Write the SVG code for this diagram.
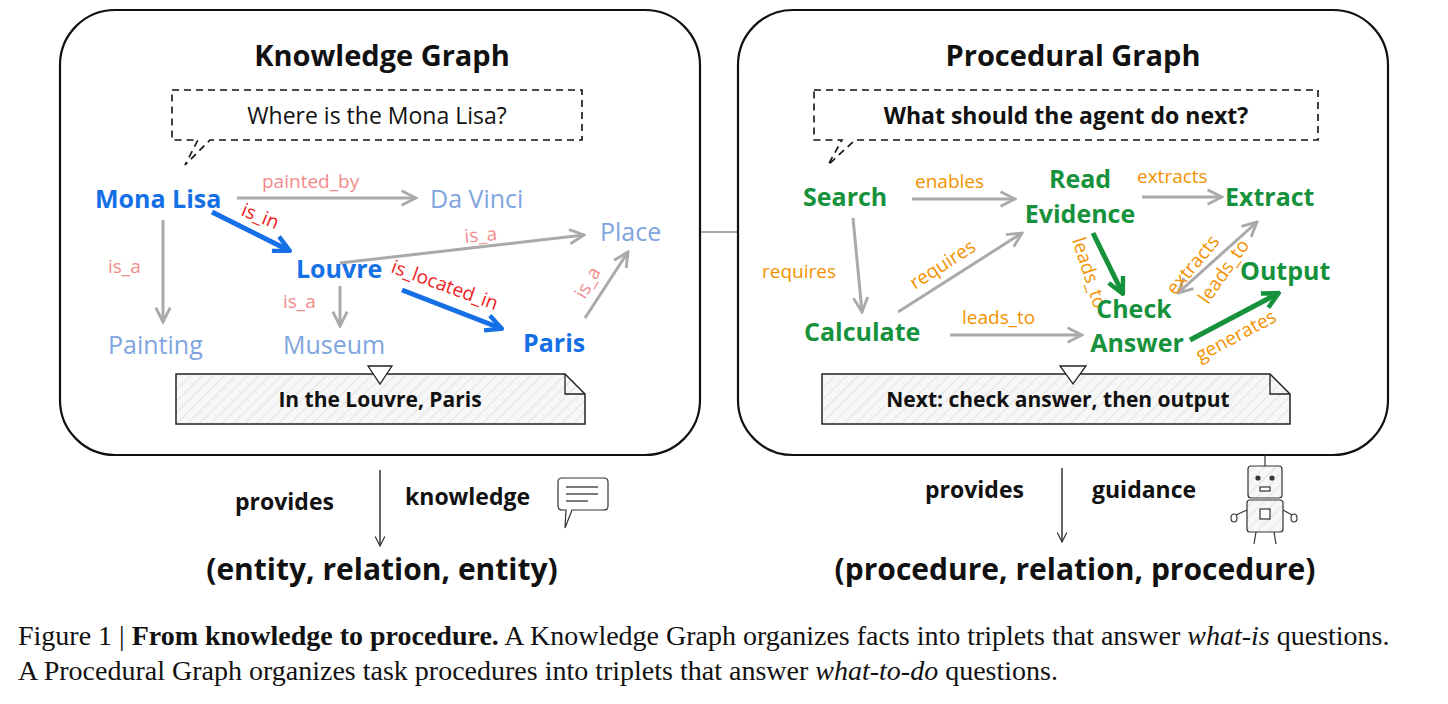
<svg xmlns="http://www.w3.org/2000/svg" width="1448" height="704" viewBox="0 0 1448 704">
<defs>
<marker id="ag" viewBox="0 0 10 10" refX="9" refY="5" markerWidth="6" markerHeight="6" orient="auto-start-reverse"><path d="M1,1 L9,5 L1,9" fill="none" stroke="#aaa" stroke-width="1.6"/></marker>
<marker id="ab" viewBox="0 0 10 10" refX="8" refY="5" markerWidth="4" markerHeight="4" orient="auto"><path d="M1,1 L9,5 L1,9" fill="none" stroke="#1570e6" stroke-width="2.2"/></marker>
<marker id="agr" viewBox="0 0 10 10" refX="8" refY="5" markerWidth="4" markerHeight="4" orient="auto"><path d="M1,1 L9,5 L1,9" fill="none" stroke="#17923c" stroke-width="2.2"/></marker>
<marker id="ak" viewBox="0 0 10 10" refX="9" refY="5" markerWidth="8" markerHeight="8" orient="auto"><path d="M1,1 L9,5 L1,9" fill="none" stroke="#333" stroke-width="1"/></marker>
<pattern id="hatch" width="8" height="8" patternUnits="userSpaceOnUse" patternTransform="rotate(45)"><rect width="8" height="8" fill="#f7f7f7"/><line x1="0" y1="0" x2="0" y2="8" stroke="#ddd" stroke-width="1.5"/></pattern>
<style>
text{font-family:"Open Sans","Liberation Sans",sans-serif;}
.t{font-size:29px;font-weight:700;fill:#111;text-anchor:middle}
.q{font-size:23px;fill:#111;text-anchor:middle}
.n{font-size:25px;font-weight:700}
.kb{fill:#1570e6}
.kl{fill:#7fa5e0;font-weight:400}
.pg{fill:#17923c}
.rl{font-size:19px;fill:#f28b8b}
.rr{font-size:19px;fill:#ee1c1c}
.ro{font-size:19px;fill:#f39200}
.g{stroke:#aaa;stroke-width:3;fill:none;marker-end:url(#ag)}
.eb{stroke:#1570e6;stroke-width:5;fill:none;marker-end:url(#ab)}
.eg{stroke:#17923c;stroke-width:5;fill:none;marker-end:url(#agr)}
.panel{fill:#fff;stroke:#111;stroke-width:2.2}
.bub{fill:#fff;stroke:#111;stroke-width:1.6;stroke-dasharray:7 5}
.note{fill:url(#hatch);stroke:#222;stroke-width:1.5}
.nt{font-size:21px;font-weight:700;fill:#111;text-anchor:middle}
.b{font-size:23px;font-weight:700;fill:#111}
.tr{font-size:30px;font-weight:700;fill:#111;text-anchor:middle}
.cap{font-family:"Liberation Serif",serif;font-size:28px;fill:#111}
</style>
</defs>
<line x1="700" y1="232" x2="738" y2="232" stroke="#555" stroke-width="1"/>
<g id="kg-panel">
<rect class="panel" x="60" y="10" width="640" height="445" rx="55"/>
<text class="t" x="382" y="66">Knowledge Graph</text>
<path class="bub" d="M172,90 H582 V140 H210 L185,165 L198,140 H172 Z"/>
<text class="q" x="377" y="124">Where is the Mona Lisa?</text>
</g>
<g id="pg-panel">
<rect class="panel" x="738" y="10" width="650" height="445" rx="55"/>
<text class="t" x="1073" y="66">Procedural Graph</text>
<path class="bub" d="M814,90 H1318 V140 H855 L828,165 L842,140 H814 Z"/>
<text class="q" x="1066" y="124" font-weight="700">What should the agent do next?</text>
</g>
<g id="connectors">
<line class="g" x1="237" y1="198" x2="416" y2="198"/>
<line class="eb" x1="212" y1="212" x2="288" y2="250"/>
<line class="g" x1="163" y1="220" x2="163" y2="322"/>
<line class="g" x1="340" y1="263" x2="584" y2="235"/>
<line class="g" x1="340" y1="286" x2="340" y2="326"/>
<line class="eb" x1="402" y1="290" x2="500" y2="328"/>
<line class="g" x1="585" y1="318" x2="628" y2="252"/>
<line class="g" x1="912" y1="199" x2="1015" y2="199"/>
<line class="g" x1="1142" y1="197" x2="1222" y2="197"/>
<line class="g" x1="853" y1="218" x2="862" y2="312"/>
<line class="g" x1="898" y1="312" x2="1022" y2="233"/>
<line class="g" x1="950" y1="335" x2="1082" y2="335"/>
<line class="eg" x1="1093" y1="233" x2="1122" y2="292"/>
<line class="g" style="marker-start:url(#ag)" x1="1178" y1="293" x2="1257" y2="222"/>
<line class="eg" x1="1190" y1="340" x2="1277" y2="294"/>
<line x1="380" y1="470" x2="380" y2="546" stroke="#333" stroke-width="1.5" marker-end="url(#ak)"/>
<line x1="1062" y1="468" x2="1062" y2="542" stroke="#333" stroke-width="1.5" marker-end="url(#ak)"/>
<line x1="1265" y1="455" x2="1265" y2="466" stroke="#333" stroke-width="1.2"/>
</g>
<g id="kg-labels">
<text class="rl" x="262" y="188">painted_by</text>
<text class="rr" x="240" y="215" transform="rotate(22 240 215)">is_in</text>
<text class="rl" x="108" y="273">is_a</text>
<text class="rl" x="465" y="243" transform="rotate(-5 465 243)">is_a</text>
<text class="rl" x="283" y="308">is_a</text>
<text class="rr" x="390" y="272" transform="rotate(20 390 272)">is_located_in</text>
<text class="rl" x="585" y="300" transform="rotate(-60 585 300)">is_a</text>
</g>
<g id="n-monalisa"><text class="n kb" x="95" y="208">Mona Lisa</text></g>
<g id="n-davinci"><text class="n kl" x="430" y="208">Da Vinci</text></g>
<g id="n-place"><text class="n kl" x="600" y="241">Place</text></g>
<g id="n-louvre"><text class="n kb" x="296" y="278">Louvre</text></g>
<g id="n-painting"><text class="n kl" x="108" y="354">Painting</text></g>
<g id="n-museum"><text class="n kl" x="283" y="354">Museum</text></g>
<g id="n-paris"><text class="n kb" x="523" y="352">Paris</text></g>
<g id="kg-note">
<path class="note" d="M176,374 H565 L585,394 V424 H176 Z"/>
<path d="M565,374 V394 H585" fill="none" stroke="#222" stroke-width="1.3"/>
<path d="M368,366 H392 L380,384 Z" fill="#fff" stroke="#222" stroke-width="1.3"/>
<text class="nt" x="380" y="407">In the Louvre, Paris</text>
</g>
<g id="pg-labels">
<text class="ro" x="915" y="188">enables</text>
<text class="ro" x="1137" y="183">extracts</text>
<text class="ro" x="762" y="278">requires</text>
<text class="ro" x="915" y="290" transform="rotate(-33 915 290)">requires</text>
<text class="ro" x="962" y="324">leads_to</text>
<text class="ro" x="1072" y="240" transform="rotate(72 1072 240)">leads_to</text>
<text class="ro" x="1175" y="296" transform="rotate(-50 1175 296)">extracts</text>
<text class="ro" x="1208" y="305" transform="rotate(-55 1208 305)">leads_to</text>
<text class="ro" x="1200" y="362" transform="rotate(-28 1200 362)">generates</text>
</g>
<g id="n-search"><text class="n pg" x="803" y="206">Search</text></g>
<g id="n-readevidence"><text class="n pg" x="1080" y="188" text-anchor="middle">Read</text><text class="n pg" x="1080" y="223" text-anchor="middle">Evidence</text></g>
<g id="n-extract"><text class="n pg" x="1225" y="206">Extract</text></g>
<g id="n-checkanswer"><text class="n pg" x="1134" y="318" text-anchor="middle">Check</text><text class="n pg" x="1137" y="352" text-anchor="middle">Answer</text></g>
<g id="n-output"><text class="n pg" x="1240" y="280">Output</text></g>
<g id="n-calculate"><text class="n pg" x="804" y="341">Calculate</text></g>
<g id="pg-note">
<path class="note" d="M822,374 H1270 L1290,394 V424 H822 Z"/>
<path d="M1270,374 V394 H1290" fill="none" stroke="#222" stroke-width="1.3"/>
<path d="M1060,366 H1086 L1073,384 Z" fill="#fff" stroke="#222" stroke-width="1.3"/>
<text class="nt" x="1058" y="407">Next: check answer, then output</text>
</g>
<g id="bottom-left">
<text class="b" x="235" y="510">provides</text>
<text class="b" x="405" y="505">knowledge</text>
<path d="M562,478 H604 Q608,478 608,482 V506 Q608,510 604,510 H572 L565,528 L566,510 H562 Q558,510 558,506 V482 Q558,478 562,478 Z" fill="#fff" stroke="#333" stroke-width="1.2"/>
<line x1="566" y1="487" x2="598" y2="487" stroke="#333" stroke-width="1.3"/>
<line x1="566" y1="494" x2="598" y2="494" stroke="#333" stroke-width="1.3"/>
<line x1="566" y1="501" x2="588" y2="501" stroke="#333" stroke-width="1.3"/>
<text class="tr" x="382" y="580">(entity, relation, entity)</text>
</g>
<g id="bottom-right">
<text class="b" x="925" y="498">provides</text>
<text class="b" x="1092" y="498">guidance</text>
<g id="robot" stroke="#333" stroke-width="1.2">
<rect x="1248" y="466" width="34" height="32" rx="3" fill="url(#hatch)"/>
<circle cx="1258" cy="478" r="2" fill="#333"/><circle cx="1272" cy="478" r="2" fill="#333"/>
<rect x="1260" y="487" width="10" height="4" fill="#fff"/>
<rect x="1247" y="500" width="36" height="32" rx="3" fill="url(#hatch)"/>
<rect x="1260" y="509" width="10" height="10" fill="#fff"/>
<line x1="1247" y1="510" x2="1236" y2="515"/><ellipse cx="1234" cy="518" rx="3" ry="4" fill="#fff"/>
<line x1="1283" y1="510" x2="1292" y2="515"/><ellipse cx="1294" cy="518" rx="3" ry="4" fill="#fff"/>
<line x1="1256" y1="532" x2="1254" y2="544"/><line x1="1274" y1="532" x2="1276" y2="544"/>
</g>
<text class="tr" x="1075" y="580">(procedure, relation, procedure)</text>
</g>
<g id="caption">
<text class="cap" x="18" y="645">Figure 1 | <tspan font-weight="700">From knowledge to procedure.</tspan> A Knowledge Graph organizes facts into triplets that answer <tspan font-style="italic">what-is</tspan> questions.</text>
<text class="cap" x="18" y="680">A Procedural Graph organizes task procedures into triplets that answer <tspan font-style="italic">what-to-do</tspan> questions.</text>
</g>
</svg>
